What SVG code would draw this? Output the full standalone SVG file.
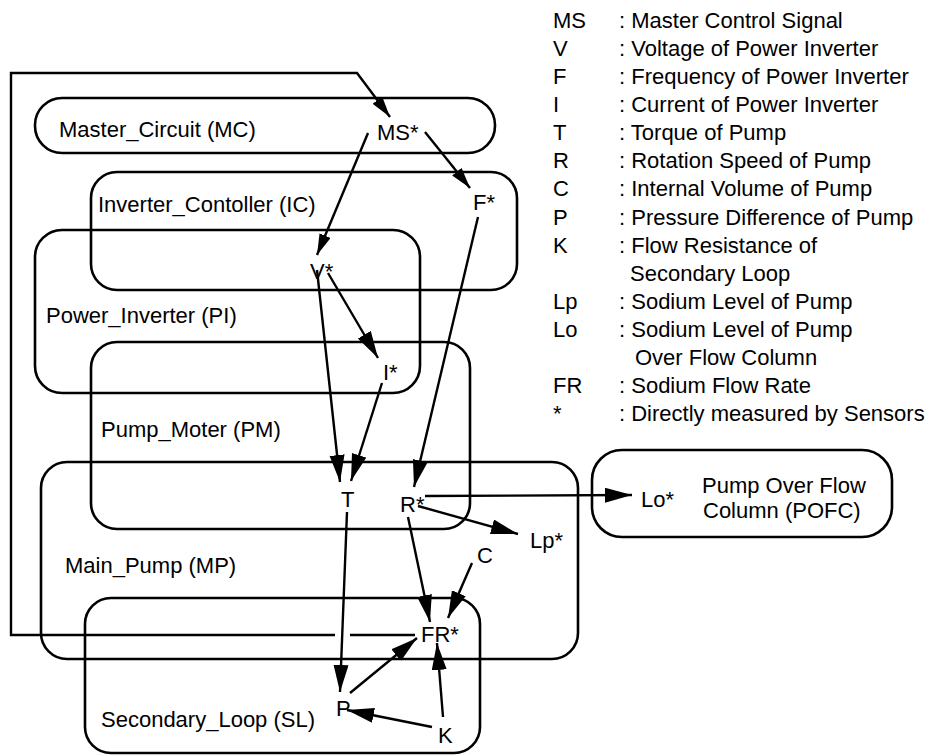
<svg xmlns="http://www.w3.org/2000/svg" width="927" height="756" viewBox="0 0 927 756">
<style>
  text { font-family: "Liberation Sans", Arial, sans-serif; font-size: 22px; fill: #000; }
  .box { fill: none; stroke: #000; stroke-width: 2.6; }
  .edge { fill: none; stroke: #000; stroke-width: 2.4; }
  .big { marker-end: url(#ah); }
  .small { marker-end: url(#as); }
</style>
<defs>
  <marker id="ah" markerUnits="userSpaceOnUse" markerWidth="30" markerHeight="18" refX="27" refY="7.5" orient="auto">
    <path d="M0,0 L27,7.5 L0,15 z" fill="#000"/>
  </marker>
  <marker id="as" markerUnits="userSpaceOnUse" markerWidth="24" markerHeight="14" refX="21" refY="6" orient="auto">
    <path d="M0,0 L21,6 L0,12 z" fill="#000"/>
  </marker>
</defs>
<rect width="927" height="756" fill="#fff"/>

<g id="MC"><rect class="box" x="35" y="98" width="460" height="55" rx="27" ry="27"/><text x="59" y="137">Master_Circuit (MC)</text></g>
<g id="IC"><rect class="box" x="91" y="172" width="426" height="118" rx="26" ry="26"/><text x="98" y="212">Inverter_Contoller (IC)</text></g>
<g id="PI"><rect class="box" x="35" y="230" width="385" height="163" rx="27" ry="27"/><text x="46" y="323">Power_Inverter (PI)</text></g>
<g id="PM"><rect class="box" x="91" y="342" width="379" height="187" rx="26" ry="26"/><text x="101" y="437">Pump_Moter (PM)</text></g>
<g id="MP"><rect class="box" x="41" y="462" width="537" height="197" rx="26" ry="26"/><text x="65" y="573">Main_Pump (MP)</text></g>
<g id="SL"><rect class="box" x="85" y="598" width="395" height="155" rx="26" ry="26"/><text x="101" y="727">Secondary_Loop (SL)</text></g>
<g id="POFC"><rect class="box" x="592" y="450" width="300" height="87" rx="30" ry="30"/><text x="702" y="493">Pump Over Flow</text><text x="703" y="518">Column (POFC)</text></g>

<g id="connectors">
  <path class="edge small" d="M415,635 H350 M335,635 H11 V73 H357 L390,117"/>
  <path class="edge small" d="M368,133 L317,255"/>
  <path class="edge small" d="M425,132 L470,188"/>
  <path class="edge big" d="M317,270 L340,482"/>
  <path class="edge big" d="M328,273 L378,358"/>
  <path class="edge big" d="M382,383 L351,481"/>
  <path class="edge big" d="M478,217 L414,487"/>
  <path class="edge big" d="M347,512 L340,692"/>
  <path class="edge big" d="M425,496 L632,495"/>
  <path class="edge big" d="M418,506 L518,534"/>
  <path class="edge big" d="M408,517 L430,622"/>
  <path class="edge big" d="M472,563 L448,618"/>
  <path class="edge big" d="M350,693 L417,638"/>
  <path class="edge big" d="M432,727 L347,710"/>
  <path class="edge big" d="M443,717 L437,643"/>
</g>

<g id="MS"><text x="377" y="140">MS*</text></g>
<g id="F"><text x="473" y="210">F*</text></g>
<g id="V"><text x="310" y="279">V*</text></g>
<g id="I"><text x="383" y="380">I*</text></g>
<g id="T"><text x="341" y="507">T</text></g>
<g id="R"><text x="400" y="512">R*</text></g>
<g id="Lo"><text x="641" y="507">Lo*</text></g>
<g id="Lp"><text x="530" y="548">Lp*</text></g>
<g id="C"><text x="477" y="563">C</text></g>
<g id="FR"><text x="421" y="642">FR*</text></g>
<g id="P"><text x="336" y="716">P</text></g>
<g id="K"><text x="438" y="743">K</text></g>

<g id="legend">
  <text x="553" y="28">MS</text><text x="619" y="28">: Master Control Signal</text>
  <text x="553" y="56">V</text><text x="619" y="56">: Voltage of Power Inverter</text>
  <text x="553" y="84">F</text><text x="619" y="84">: Frequency of Power Inverter</text>
  <text x="553" y="112">I</text><text x="619" y="112">: Current of Power Inverter</text>
  <text x="553" y="140">T</text><text x="619" y="140">: Torque of Pump</text>
  <text x="553" y="168">R</text><text x="619" y="168">: Rotation Speed of Pump</text>
  <text x="553" y="196">C</text><text x="619" y="196">: Internal Volume of Pump</text>
  <text x="553" y="225">P</text><text x="619" y="225">: Pressure Difference of Pump</text>
  <text x="553" y="253">K</text><text x="619" y="253">: Flow Resistance of</text>
  <text x="630" y="281">Secondary Loop</text>
  <text x="553" y="309">Lp</text><text x="619" y="309">: Sodium Level of Pump</text>
  <text x="553" y="337">Lo</text><text x="619" y="337">: Sodium Level of Pump</text>
  <text x="635" y="365">Over Flow Column</text>
  <text x="553" y="393">FR</text><text x="619" y="393">: Sodium Flow Rate</text>
  <text x="553" y="421">*</text><text x="619" y="421">: Directly measured by Sensors</text>
</g>
</svg>
